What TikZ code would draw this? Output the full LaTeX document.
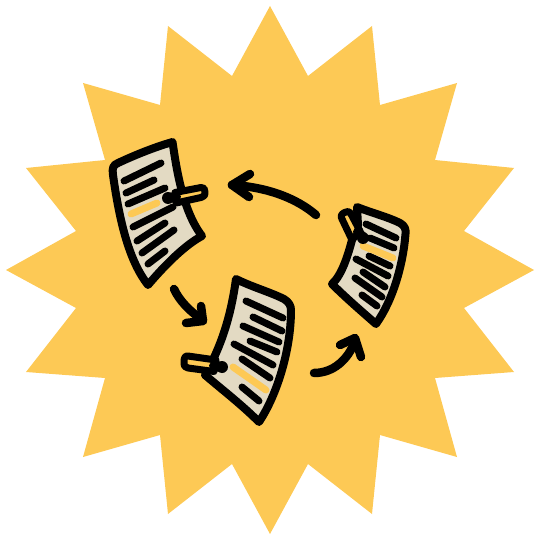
\documentclass[tikz,border=0pt]{standalone}
\definecolor{sunny}{HTML}{FDC955}
\definecolor{paper}{HTML}{E3DAC3}
\tikzset{
  inkline/.style={line width=7pt,line cap=round,line join=round,draw=black},
  sheet/.style={line width=8pt,line join=round,draw=black,fill=paper},
  hilite/.style={line width=7pt,line cap=round,draw=sunny},
  clipbody/.style={line width=7pt,line join=round,draw=black,fill=sunny},
  clipdot/.style={fill=black,draw=none},
  loop/.style={line width=8.5pt,line cap=round,line join=round,draw=black}
}
\begin{document}
\begin{tikzpicture}[x=1pt,y=-1pt]
\useasboundingbox (0,0) rectangle (536,535);
\fill[sunny] (270,6)--(308,76)--(372,26)--(380,105)--(457,83)--(435,160)--(514,168)--(464,231)--(534,270)--(464,308)--(514,372)--(435,378)--(457,457)--(380,435)--(372,514)--(308,464)--(270,534)--(232,464)--(168,514)--(160,435)--(83,457)--(105,378)--(26,372)--(76,308)--(6,270)--(76,231)--(26,168)--(105,160)--(83,83)--(160,105)--(168,26)--(232,76)--cycle;
% document 1
\draw[sheet] (172.5,142) .. controls (176,165) and (182,210) .. (202,236) .. controls (185,245) and (165,265) .. (148,285) .. controls (130,262) and (120,225) .. (113,175) .. controls (112,168) and (113,165) .. (118,163) .. controls (135,155) and (155,147) .. (172.5,142) -- cycle;
\foreach \a/\b in {{124,181}/{161,163},{126,193}/{154,180},{128,204}/{165,188},{133,227}/{173,207},{137,241}/{165,223},{142,253}/{174,230},{148,264}/{165,251}} \draw[inkline] (\a)--(\b);
\draw[hilite] (131,214)--(157,203);
\draw[clipbody] (175,192.5)--(201,187.5) .. controls (204,187) and (205,189) .. (205,192) .. controls (205,195.5) and (204,197) .. (201,197.5) -- (176,203)--cycle;
\fill[clipdot] (168,198) circle (6);
\draw[inkline,line width=10pt] (168,198)--(176,197);
% document 2
\draw[sheet] (236,279) .. controls (252,287) and (270,292) .. (284,299) .. controls (289,302) and (291,306) .. (291,310) .. controls (291,350) and (277,395) .. (259,422) .. controls (242,405) and (225,392) .. (205,375) .. controls (222,345) and (231,315) .. (236,279) -- cycle;
\foreach \a/\b in {{246,301}/{283,318},{253,317}/{282,331},{243,326}/{279,342},{250,341}/{277,352},{234,344}/{273,365},{242,359}/{270,378},{242,387}/{259,401}} \draw[inkline] (\a)--(\b);
\draw[hilite] (233,367)--(266,390);
\draw[clipbody] (216,360)--(188,356) .. controls (185,355.5) and (184,358) .. (184,362) .. controls (184,366) and (185,368) .. (188,368) -- (214,371.5)--cycle;
\fill[clipdot] (222,367) circle (6);
\draw[inkline,line width=10pt] (222,367)--(214,366);
% document 3
\draw[sheet] (357,207) .. controls (372,213) and (388,217) .. (400,223) .. controls (405,226) and (406,229) .. (405.5,234) .. controls (403,265) and (393,300) .. (376,324) .. controls (360,310) and (345,297) .. (332,284) .. controls (342,275) and (348,255) .. (352,240) -- (358,225) -- cycle;
\foreach \a/\b in {{366,224}/{396,238},{370,238}/{394,248},{369,256}/{390,266},{356,259}/{388,276},{363,272}/{385,287},{355,278}/{382,297},{362,295}/{377,306}} \draw[inkline] (\a)--(\b);
\draw[hilite] (363,246)--(393,258);
\draw[clipbody] (360,231)--(351,214) .. controls (349,211) and (347,211) .. (344.5,212.5) .. controls (341,214.5) and (340.5,216) .. (342,219) -- (352,240) -- cycle;
\fill[clipdot] (363,238) circle (6);
\draw[inkline,line width=10pt] (363,238)--(358,232);
% arrows
\draw[loop] (316,215) .. controls (295,197) and (265,187) .. (232,185);
\draw[loop] (250,174)--(232,185)--(249,197);
\draw[loop] (174,289) .. controls (179,300) and (190,312) .. (203,320);
\draw[loop] (201,306)--(203,321)--(186,323);
\draw[loop] (314,373) .. controls (333,373) and (348,360) .. (355,341);
\draw[loop] (340,345)--(355,338)--(361,357);
\end{tikzpicture}
\end{document}
